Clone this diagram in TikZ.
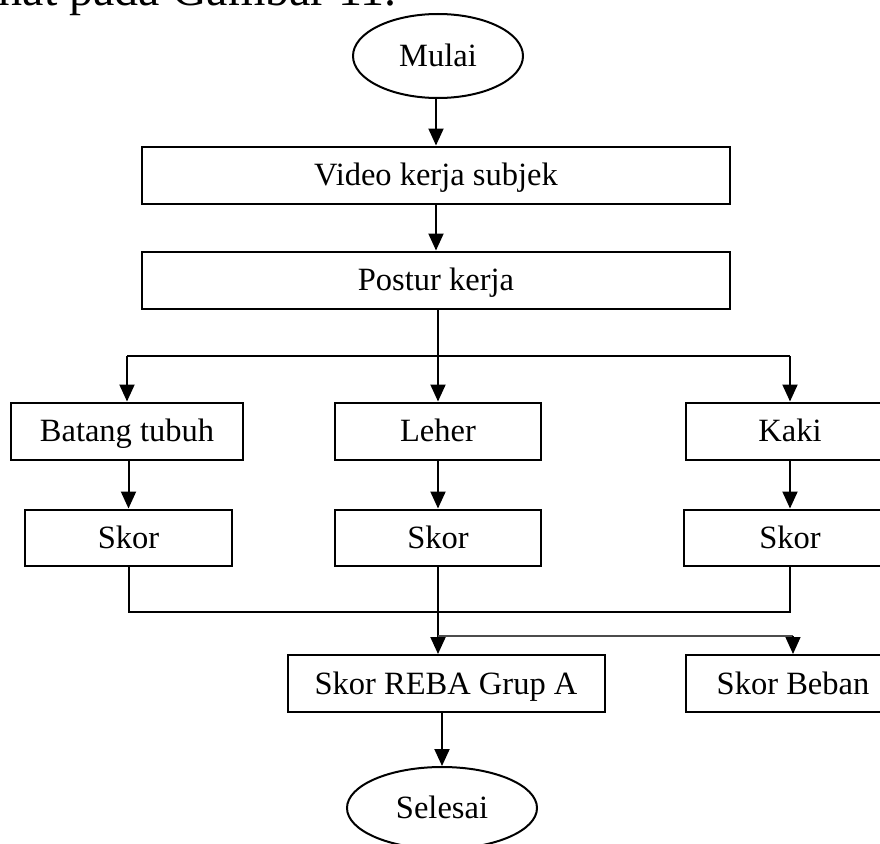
\documentclass[tikz,border=0pt]{standalone}
\usepackage{fontspec}
\setmainfont{Liberation Serif}
\usetikzlibrary{arrows.meta,shapes.geometric}
\begin{document}
\begin{tikzpicture}[x=1pt,y=-1pt,
  lbl/.style={font=\fontsize{32.5}{38}\selectfont, inner sep=0pt, text height=21.5pt, text depth=0pt},
  box/.style={lbl, draw, line width=2pt, rectangle, minimum height=57pt},
  term/.style={lbl, draw, line width=2pt, ellipse},
  conn/.style={line width=2pt},
  arr/.style={line width=2pt, -{Triangle[width=15pt,length=17pt]}},
  thin/.style={line width=1.3pt, draw=black!70}]
\useasboundingbox (0,0) rectangle (880,843);
\node[anchor=base east, font=\fontsize{48}{58}\selectfont, inner sep=0pt] (intro) at (397,6) {lihat pada Gambar 11.};
\node[term, minimum width=170pt, minimum height=84pt] (mulai) at (438,56) {Mulai};
\node[box, minimum width=588pt] (video) at (436,175) {Video kerja subjek};
\node[box, minimum width=588pt] (postur) at (436,280) {Postur kerja};
\node[box, minimum width=232pt] (batang) at (127,431) {Batang tubuh};
\node[box, minimum width=206pt] (leher) at (438,431) {Leher};
\node[box, minimum width=208pt] (kaki) at (790,431) {Kaki};
\node[box, minimum width=207pt, minimum height=56pt] (skor1) at (128.5,537.5) {Skor};
\node[box, minimum width=206pt, minimum height=56pt] (skor2) at (438,537.5) {Skor};
\node[box, minimum width=212pt, minimum height=56pt] (skor3) at (790,537.5) {Skor};
\node[box, minimum width=317pt] (reba) at (446,683.5) {Skor REBA Grup A};
\node[box, minimum width=214pt] (beban) at (793,683.5) {Skor Beban};
\node[term, minimum width=190pt, minimum height=82pt] (selesai) at (442,808) {Selesai};
\coordinate (split) at (438,356);
\coordinate (splitL) at (127,356);
\coordinate (splitR) at (790,356);
\coordinate (mergeL) at (128.5,612);
\coordinate (mergeR) at (790,612);
\coordinate (tap) at (438,636);
\coordinate (tapR) at (793,636);
% connectors
\draw[arr] (mulai.south -| video.north) -- (video.north);
\draw[arr] (video.south) -- (postur.north);
\draw[conn] (postur.south -| split) -- (split);
\draw[conn] (splitL) -- (splitR);
\draw[arr] (splitL) -- (batang.north);
\draw[arr] (split) -- (leher.north);
\draw[arr] (splitR) -- (kaki.north);
\draw[arr] (batang.south -| skor1.north) -- (skor1.north);
\draw[arr] (leher.south) -- (skor2.north);
\draw[arr] (kaki.south) -- (skor3.north);
\draw[conn] (skor1.south) -- (mergeL) -- (mergeR) -- (skor3.south);
\draw[arr] (skor2.south) -- (skor2.south |- reba.north);
\draw[thin] (tap) -- (tapR);
\draw[arr, line width=1.3pt] (tapR) -- (beban.north);
\draw[arr] (reba.south -| selesai.north) -- (selesai.north);
\end{tikzpicture}
\end{document}
